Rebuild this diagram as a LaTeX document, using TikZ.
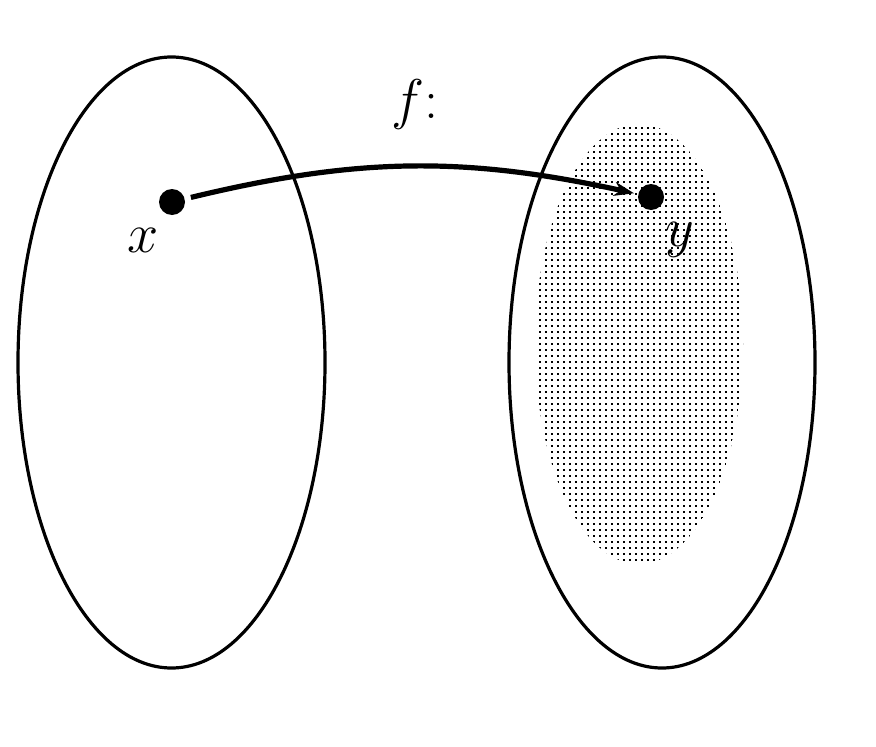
\documentclass[tikz,border=0pt]{standalone}
\usepackage{fix-cm}
\usetikzlibrary{arrows.meta,patterns.meta,positioning}

\tikzdeclarepattern{
  name=setdots,
  bottom left={(-1pt,-1pt)},
  top right={(1pt,1pt)},
  tile size={(3pt,3pt)},
  code={\pgfpathrectangle{\pgfqpoint{-0.6pt}{-0.6pt}}{\pgfqpoint{1.2pt}{1.2pt}}\pgfusepath{fill}}
}

\begin{document}
\begin{tikzpicture}[x=0.5pt,y=0.5pt,>={Stealth[length=10pt,width=7pt]},
  font=\fontsize{28}{32}\selectfont,
  setline/.style={line width=1.6pt},
  point/.style={circle,fill=black,inner sep=0pt,minimum size=13pt},
  maplabel/.style={inner sep=1pt}]
\useasboundingbox (0,0) rectangle (876,746);

% the two sets
\draw[setline] (171.5,383.5) ellipse [x radius=153.5,y radius=305.5];
\draw[setline] (662,383.5) ellipse [x radius=153,y radius=305.5];
% image of f
\fill[pattern=setdots] (639,402) ellipse [x radius=104,y radius=220];

% points and labels
\node[point] (px) at (172,544) {};
\node[point] (py) at (651,549) {};
\node[maplabel] (lx) at (143,506) {$x$};
\node[maplabel] (ly) at (680,506) {$y$};

% the map
\draw[->,line width=2.6pt,shorten <=3pt,shorten >=2pt] (px) to[bend left=13] (py);
\node[maplabel] (lf) at (415,641) {$f$:};
\end{tikzpicture}
\end{document}
